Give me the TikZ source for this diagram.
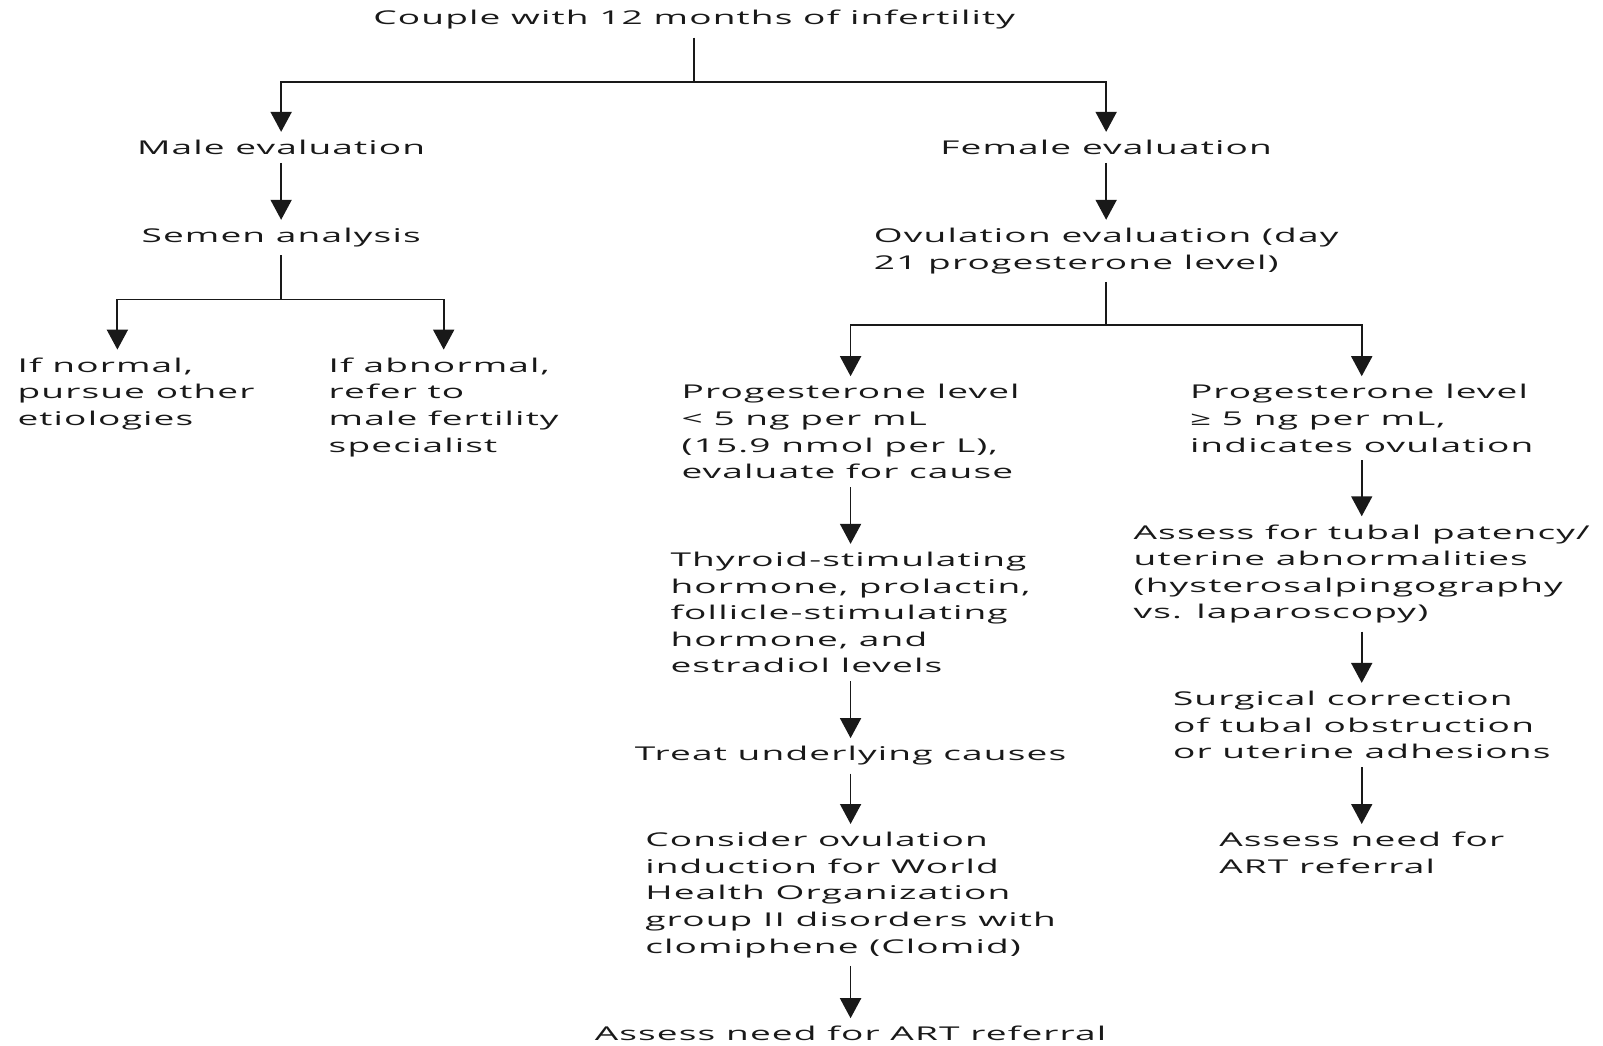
\documentclass[tikz,border=0pt]{standalone}
\usepackage{fontspec}
\setmainfont{Open Sans}[FakeStretch=1.95,LetterSpace=6]
\usetikzlibrary{arrows.meta}

\begin{document}
\begin{tikzpicture}[x=1.0223pt,y=-1.0223pt,
    txt/.style={align=left,inner xsep=0pt,inner ysep=8pt,anchor=north,text=black!90,
      font=\fontsize{19pt}{26.6pt}\selectfont},
    ln/.style={line width=1.8pt,draw=black!90},
    arr/.style={ln,-{Triangle[width=21pt,length=20pt]}}]
  \useasboundingbox (0,0) rectangle (1568,1023);
  % top
  \node[txt] (couple) at (679,2) {Couple with 12 months of infertility};
  \coordinate (j1) at (679,80);
  \draw[ln] (couple) -- (j1);
  % male side
  \node[txt] (male) at (275,129) {Male evaluation};
  \node[txt] (semen) at (275,215) {Semen analysis};
  \node[txt,anchor=north west] (normal) at (17,342) {If normal,\\pursue other\\etiologies};
  \node[txt] (abnormal) at (434,342) {If abnormal,\\refer to\\male fertility\\specialist};
  \coordinate (j2) at (275,293);
  \draw[arr] (j1) -| (male);
  \draw[arr] (male) -- (semen);
  \draw[ln] (semen) -- (j2);
  \draw[arr] (j2) -| ([xshift=100pt]normal.north west);
  \draw[arr] (j2) -| (abnormal);
  % female side
  \node[txt] (female) at (1082,129) {Female evaluation};
  \node[txt] (ovul) at (1082,215) {Ovulation evaluation (day\\21 progesterone level)};
  \coordinate (j3) at (1082,318);
  \draw[arr] (j1) -| (female);
  \draw[arr] (female) -- (ovul);
  \draw[ln] (ovul) -- (j3);
  % low progesterone
  \node[txt] (proglow) at (832,368) {Progesterone level\\< 5 ng per mL\\(15.9 nmol per L),\\evaluate for cause};
  \node[txt] (thyroid) at (832,532) {Thyroid-stimulating\\hormone, prolactin,\\follicle-stimulating\\hormone, and\\estradiol levels};
  \node[txt] (treat) at (832,722) {Treat underlying causes};
  \node[txt] (consider) at (832,806) {Consider ovulation\\induction for World\\Health Organization\\group II disorders with\\clomiphene (Clomid)};
  \node[txt] (artleft) at (832,996) {Assess need for ART referral};
  \draw[arr] (j3) -| (proglow);
  \draw[arr] (proglow) -- (thyroid);
  \draw[arr] (thyroid) -- (treat);
  \draw[arr] (treat) -- (consider);
  \draw[arr] (consider) -- (artleft);
  % high progesterone
  \node[txt] (proghigh) at (1332,368) {Progesterone level\\≥ 5 ng per mL,\\indicates ovulation};
  \node[txt] (tubal) at (1332,505) {Assess for tubal patency/\\uterine abnormalities\\(hysterosalpingography\\vs. laparoscopy)};
  \node[txt] (surgical) at (1332,668) {Surgical correction\\of tubal obstruction\\or uterine adhesions};
  \node[txt] (artright) at (1332,806) {Assess need for\\ART referral};
  \draw[arr] (j3) -| (proghigh);
  \draw[arr] (proghigh) -- (tubal);
  \draw[arr] (tubal) -- (surgical);
  \draw[arr] (surgical) -- (artright);
\end{tikzpicture}
\end{document}
